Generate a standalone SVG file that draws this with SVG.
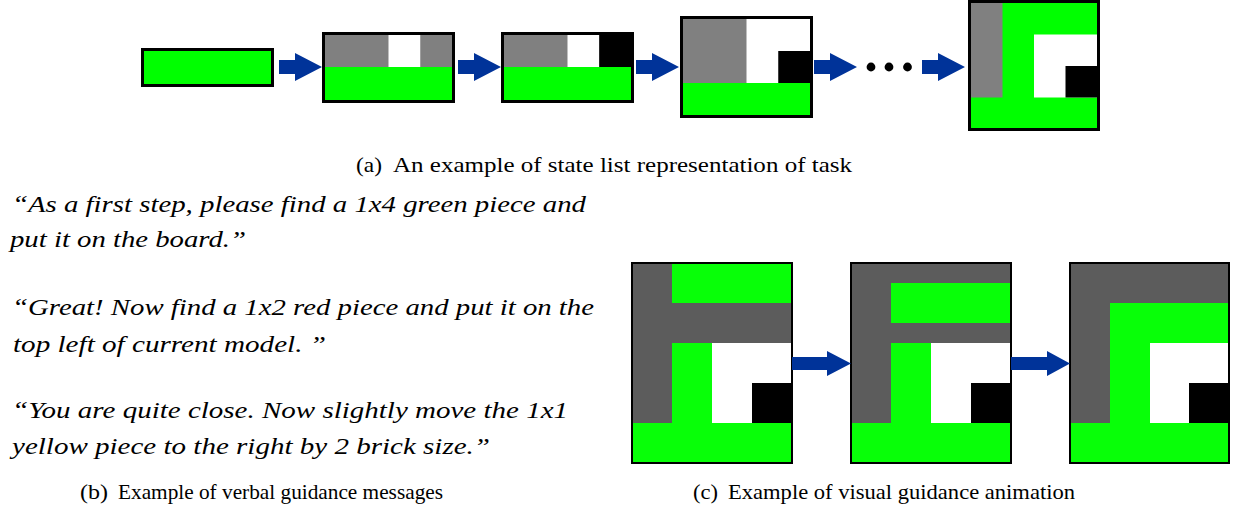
<svg xmlns="http://www.w3.org/2000/svg" width="1233" height="509" viewBox="0 0 1233 509">
  <style>
    .g1 { fill: #00ff00; }
    .k1 { fill: #808080; }
    .g2 { fill: #08ff08; }
    .k2 { fill: #5c5c5c; }
    .w { fill: #ffffff; }
    .b { fill: #000000; }
    .frame1 { fill: none; stroke: #000000; stroke-width: 3; }
    .frame2 { fill: none; stroke: #000000; stroke-width: 2; }
    .arrow { fill: #003399; }
    .quote { font-family: "Liberation Serif", "Times New Roman", serif; font-style: italic; font-size: 24px; fill: #000000; }
    .cap { font-family: "Liberation Serif", "Times New Roman", serif; font-size: 22px; fill: #000000; }
  </style>

  <!-- (a) state list, top row -->
  <g id="state-0">
    <rect class="g1" x="144" y="51" width="127" height="33"/>
    <rect class="frame1" x="142.5" y="49.5" width="130" height="36"/>
  </g>
  <g id="state-1">
    <rect class="k1" x="325" y="35" width="127" height="32"/>
    <rect class="w" x="388.5" y="35" width="31.75" height="32"/>
    <rect class="g1" x="325" y="67" width="127" height="33"/>
    <rect class="frame1" x="323.5" y="33.5" width="130" height="68"/>
  </g>
  <g id="state-2">
    <rect class="k1" x="504" y="35" width="127" height="32"/>
    <rect class="w" x="567.5" y="35" width="31.75" height="32"/>
    <rect class="b" x="599.25" y="35" width="31.75" height="32"/>
    <rect class="g1" x="504" y="67" width="127" height="33"/>
    <rect class="frame1" x="502.5" y="33.5" width="130" height="68"/>
  </g>
  <g id="state-3">
    <rect class="w" x="683" y="19" width="127" height="64"/>
    <rect class="k1" x="683" y="19" width="63.5" height="64"/>
    <rect class="b" x="778.25" y="51" width="31.75" height="32"/>
    <rect class="g1" x="683" y="83" width="127" height="32"/>
    <rect class="frame1" x="681.5" y="17.5" width="130" height="99"/>
  </g>
  <g id="state-dots">
    <circle cx="871" cy="67" r="4.4"/>
    <circle cx="889" cy="67" r="4.4"/>
    <circle cx="907.5" cy="67" r="4.4"/>
  </g>
  <g id="state-final">
    <rect class="g1" x="971" y="3" width="126" height="125"/>
    <rect class="k1" x="971" y="3" width="31.5" height="94.5"/>
    <rect class="w" x="1034" y="34.5" width="63" height="63"/>
    <rect class="b" x="1065.5" y="66" width="31.5" height="31.5"/>
    <rect class="frame1" x="969.5" y="1.5" width="129" height="128"/>
  </g>

  <!-- (c) visual guidance animation, bottom right -->
  <g id="frame-1">
    <rect class="k2" x="632" y="263" width="160" height="160"/>
    <rect class="g2" x="672" y="263" width="120" height="40"/>
    <rect class="g2" x="672" y="343" width="40" height="80"/>
    <rect class="w" x="712" y="343" width="80" height="80"/>
    <rect class="b" x="752" y="383" width="40" height="40"/>
    <rect class="g2" x="632" y="423" width="160" height="40"/>
    <rect class="frame2" x="632" y="263" width="160" height="200"/>
  </g>
  <g id="frame-2">
    <rect class="k2" x="851" y="263" width="160" height="160"/>
    <rect class="g2" x="891" y="283" width="120" height="40"/>
    <rect class="g2" x="891" y="343" width="40" height="80"/>
    <rect class="w" x="931" y="343" width="80" height="80"/>
    <rect class="b" x="971" y="383" width="40" height="40"/>
    <rect class="g2" x="851" y="423" width="160" height="40"/>
    <rect class="frame2" x="851" y="263" width="160" height="200"/>
  </g>
  <g id="frame-3">
    <rect class="k2" x="1070" y="263" width="159" height="160"/>
    <rect class="g2" x="1110" y="303" width="119" height="40"/>
    <rect class="g2" x="1110" y="343" width="40" height="80"/>
    <rect class="w" x="1150" y="343" width="79" height="80"/>
    <rect class="b" x="1189" y="383" width="40" height="40"/>
    <rect class="g2" x="1070" y="423" width="159" height="40"/>
    <rect class="frame2" x="1070" y="263" width="159" height="200"/>
  </g>

  <!-- block arrows between states and frames -->
  <g id="connectors">
    <path class="arrow" d="M279 60 H295 V53 L322 67 L295 81 V74 H279 Z"/>
    <path class="arrow" d="M458 60 H474 V53 L501 67 L474 81 V74 H458 Z"/>
    <path class="arrow" d="M636 60 H652 V53 L679 67 L652 81 V74 H636 Z"/>
    <path class="arrow" d="M814 60 H830 V53 L857 67 L830 81 V74 H814 Z"/>
    <path class="arrow" d="M922 60 H938 V53 L965 67 L938 81 V74 H922 Z"/>
    <path class="arrow" d="M792 357 H827 V351 L851 363.5 L827 376 V370 H792 Z"/>
    <path class="arrow" d="M1011 357 H1047 V351 L1070 363.5 L1047 376 V370 H1011 Z"/>
  </g>

  <!-- (b) verbal guidance messages -->
  <g id="messages">
    <text class="quote" x="12" y="212" textLength="574" lengthAdjust="spacingAndGlyphs">“As a first step, please find a 1x4 green piece and</text>
    <text class="quote" x="10" y="247" textLength="236" lengthAdjust="spacingAndGlyphs">put it on the board.”</text>
    <text class="quote" x="12" y="315" textLength="582" lengthAdjust="spacingAndGlyphs">“Great! Now find a 1x2 red piece and put it on the</text>
    <text class="quote" x="13" y="351.5" textLength="313" lengthAdjust="spacingAndGlyphs">top left of current model. ”</text>
    <text class="quote" x="12" y="418" textLength="556" lengthAdjust="spacingAndGlyphs">“You are quite close. Now slightly move the 1x1</text>
    <text class="quote" x="12" y="453.5" textLength="478" lengthAdjust="spacingAndGlyphs">yellow piece to the right by 2 brick size.”</text>
  </g>

  <!-- captions -->
  <g id="captions">
    <text class="cap" x="356" y="172" textLength="26" lengthAdjust="spacingAndGlyphs">(a)</text>
    <text class="cap" x="393" y="172" textLength="459" lengthAdjust="spacingAndGlyphs">An example of state list representation of task</text>
    <text class="cap" x="80" y="499" textLength="28" lengthAdjust="spacingAndGlyphs">(b)</text>
    <text class="cap" x="118" y="499" textLength="325" lengthAdjust="spacingAndGlyphs">Example of verbal guidance messages</text>
    <text class="cap" x="693" y="499" textLength="25" lengthAdjust="spacingAndGlyphs">(c)</text>
    <text class="cap" x="728" y="499" textLength="347" lengthAdjust="spacingAndGlyphs">Example of visual guidance animation</text>
  </g>
</svg>
